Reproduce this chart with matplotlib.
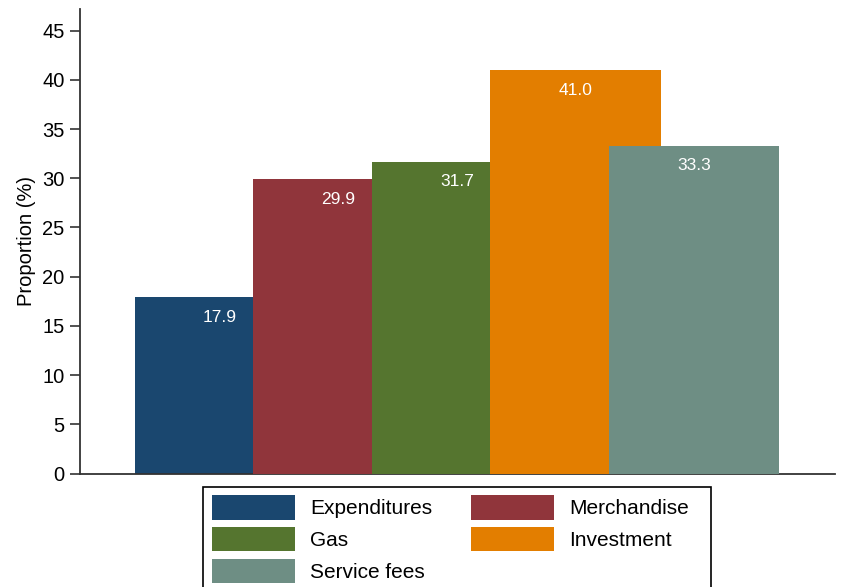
import matplotlib
matplotlib.use("Agg")
import matplotlib.pyplot as plt
from matplotlib.patches import Patch, Rectangle

plt.rcParams['font.family'] = ['Liberation Sans', 'DejaVu Sans']

categories = ["Expenditures", "Merchandise", "Gas", "Investment", "Service fees"]
values = [17.9, 29.9, 31.7, 41.0, 33.3]
colors = ["#1a476f", "#90353b", "#55752f", "#e37e00", "#6e8e84"]
yticks = [0, 5, 10, 15, 20, 25, 30, 35, 40, 45]

W, H = 845, 587
fig = plt.figure(figsize=(W/100, H/100), dpi=100)
ax = fig.add_axes([80/W, 1-473.5/H, (835-80)/W, (473.5-9)/H])

width = 1.44
for i, (cat, v, c) in enumerate(zip(categories, values, colors)):
    ax.bar(i, v, width=width, color=c, edgecolor='none', zorder=2+i, label=cat)
    ax.annotate(f"{v:.1f}", (i, v), xytext=(0, -14.4), textcoords='offset points',
                ha='center', va='center', color='white', fontsize=12.5, zorder=10+i)

ax.set_xlim(-1.182, 5.19)
ax.set_ylim(0, 47.2)
ax.set_yticks(yticks)
ax.set_yticklabels([str(t) for t in yticks], fontsize=14.5)
ax.set_xticks([])
ax.tick_params(axis='y', length=7, width=1.2, pad=4, color='#333333')
for s in ['top', 'right']:
    ax.spines[s].set_visible(False)
for s in ['left', 'bottom']:
    ax.spines[s].set_linewidth(1.3)
    ax.spines[s].set_color('#333333')
ax.set_ylabel("Proportion (%)", fontsize=14.5)
ax.yaxis.set_label_coords(-44/755, 0.5)

handles = [Patch(facecolor=c, edgecolor='none') for c in colors]
order = [0, 2, 4, 1, 3]
leg = fig.legend([handles[i] for i in order], [categories[i] for i in order],
                 ncol=2, loc='upper left', bbox_to_anchor=(203.3/W, 1-486.7/H),
                 fontsize=15, handlelength=4.0, handleheight=1.4, labelspacing=0.36,
                 handletextpad=0.69, columnspacing=1.88, borderpad=0.42, borderaxespad=0,
                 frameon=False)

# legend frame (extends past the bottom edge of the figure, as in the reference)
fig.patches.append(Rectangle((203.3/W, -20/H), (711-203.3)/W, (H-486.7+20)/H,
                             transform=fig.transFigure, fill=False,
                             edgecolor='black', linewidth=1.2))

fig.savefig("out.png", dpi=100)
